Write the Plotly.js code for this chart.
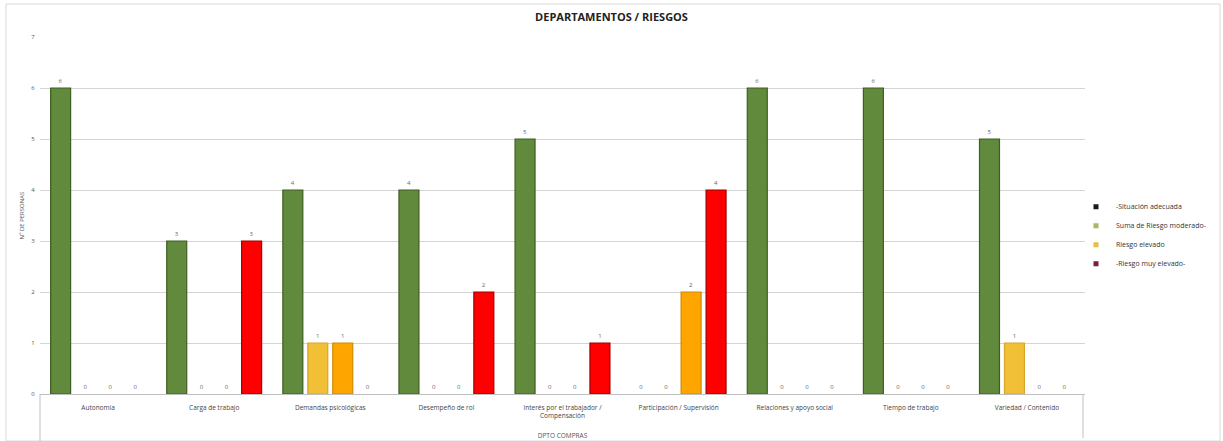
<!DOCTYPE html>
<html><head><meta charset="utf-8">
<script src="https://cdn.plot.ly/plotly-3.0.1.min.js"></script>
<style>html,body{margin:0;padding:0;background:#fff;}#chart{width:1223px;height:441px;}</style>
</head><body><div id="chart"></div>
<script>
const categories = ["Autonomía","Carga de trabajo","Demandas psicológicas","Desempeño de rol","Interés por el trabajador /<br>Compensación","Participación / Supervisión","Relaciones y apoyo social","Tiempo de trabajo","Variedad / Contenido"];
const seriesNames = ["-Situación adecuada","Suma de Riesgo moderado-","Riesgo elevado","-Riesgo muy elevado-"];
const situacionAdecuada = [6,3,4,4,5,0,6,6,5];
const riesgoModerado   = [0,0,1,0,0,0,0,0,1];
const riesgoElevado    = [0,0,1,0,0,2,0,0,0];
const riesgoMuyElevado = [0,3,0,2,1,4,0,0,0];
const yTicks = [0,1,2,3,4,5,6,7];

const colors = ["#628A3C","#F2C037","#FFA500","#FF0000"];
const lines  = ["#3E5E22","#D9A52A","#D08A00","#A00000"];
const legendColors = ["#1a1a1a","#A8B860","#E2C040","#7A1F3A"];
const allSeries = [situacionAdecuada, riesgoModerado, riesgoElevado, riesgoMuyElevado];

const traces = allSeries.map((vals,i)=>({
  type:'bar', name:seriesNames[i], x:categories, y:vals, showlegend:false,
  marker:{color:colors[i], line:{color:lines[i], width:vals.map(v=>v?1.2:0)}},
  text:vals.map(String), textposition:'outside', cliponaxis:false,
  textfont:{size:6, color:'#666'}
}));
// legend-only entries (no visible marks)
allSeries.forEach((vals,i)=>traces.push({
  type:'scatter', mode:'markers', name:seriesNames[i], x:[categories[0]], y:[null],
  marker:{symbol:'square', size:5, color:legendColors[i]}, showlegend:true, hoverinfo:'skip'
}));

const L=40, R=1085, T=37, B=394, W=1223, H=441;
const px = v => (v-L)/(R-L);
const py = v => (B-v)/(B-T);

const layout = {
  width:W, height:H,
  margin:{l:L, r:W-R, t:T, b:H-B, autoexpand:false},
  paper_bgcolor:'#fff', plot_bgcolor:'#fff',
  font:{family:'Open Sans, Liberation Sans, sans-serif', color:'#404040'},
  title:{text:'<b>DEPARTAMENTOS / RIESGOS</b>', font:{size:11, color:'#222'}, x:0.5, xanchor:'center', y:0.96, yanchor:'middle'},
  barmode:'group', bargap:0.14, bargroupgap:0.2,
  xaxis:{tickfont:{size:6.5,color:'#444'}, showline:true, linecolor:'#bfbfbf', linewidth:1, ticks:'outside', ticklen:7, tickcolor:'rgba(0,0,0,0)', showgrid:false,
         title:{text:'DPTO COMPRAS', font:{size:6.5,color:'#555'}, standoff:14}},
  yaxis:{range:[0,7], tickvals:yTicks, tickfont:{size:6,color:'#555'}, showgrid:true, gridcolor:'#d4d4d4', gridwidth:1,
         zeroline:false, showline:false, ticks:'outside', ticklen:3, tickcolor:'rgba(0,0,0,0)',
         title:{text:'Nº DE PERSONAS', font:{size:6,color:'#555'}, standoff:6}},
  legend:{x:px(1076), y:0.445, xanchor:'left', yanchor:'middle', font:{size:7,color:'#333'}, bgcolor:'rgba(0,0,0,0)', itemwidth:30, tracegroupgap:0},
  showlegend:true,
  shapes:[
    {type:'rect', xref:'paper', yref:'paper', x0:px(6), x1:px(1220), y0:py(441), y1:py(4), line:{color:'#d9d9d9', width:1}},
    {type:'line', xref:'paper', yref:'paper', x0:px(40), x1:px(40), y0:py(394), y1:py(441), line:{color:'#bfbfbf', width:1}},
    {type:'line', xref:'paper', yref:'paper', x0:px(1083), x1:px(1083), y0:py(394), y1:py(438), line:{color:'#bfbfbf', width:1}}
  ]
};
Plotly.newPlot('chart', traces, layout, {displayModeBar:false, staticPlot:true});
</script></body></html>
